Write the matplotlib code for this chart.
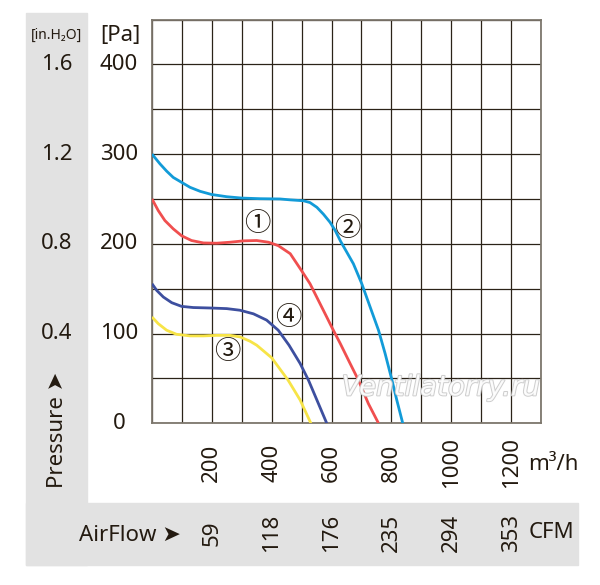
import matplotlib
matplotlib.use("Agg")

import matplotlib.pyplot as plt
import matplotlib.patheffects as pe
import matplotlib.transforms as mtransforms
from matplotlib.patches import Rectangle

# ---------------- data ----------------
flow_ticks = [200, 400, 600, 800, 1000, 1200]          # m3/h
cfm_labels = ["59", "118", "176", "235", "294", "353"]  # CFM
pa_ticks = [0, 100, 200, 300, 400]                      # Pa
inh2o_pa = [400, 300, 200, 100]
inh2o_labels = ["1.6", "1.2", "0.8", "0.4"]

# curve 1 (red)
flow_1 = [0, 21, 43, 71, 99, 132, 172, 216, 261, 305, 350, 389, 422, 462, 500,
          528, 556, 584, 601, 629, 662, 690, 723, 757]
pres_1 = [250, 237, 226, 216.7, 209, 203.7, 201, 200.7, 201.8, 203.3, 203.7, 201.8,
          198, 189, 170, 155.6, 137, 118.4, 107, 89, 66.7, 48, 22, 0]

# curve 2 (light blue)
flow_2 = [0, 27, 49, 71, 99, 127, 161, 199, 250, 300, 361, 428, 462, 506, 528, 551,
          573, 595, 612, 630, 651, 673, 701, 729, 757, 779, 802, 818, 838]
pres_2 = [300, 289, 281, 274, 268.5, 263, 258.5, 255, 252.5, 251, 250.3, 250, 249,
          248, 246, 240.7, 233, 224, 215, 203, 190.7, 177.8, 155.6, 129.6, 103.7,
          77.8, 48, 26, 0]

# curve 3 (yellow)
flow_3 = [0, 21, 49, 82, 127, 172, 216, 261, 294, 328, 350, 400, 455, 495, 531]
pres_3 = [118.5, 111, 103.7, 99.2, 97.4, 97.4, 98, 98, 96.3, 91.4, 87, 73, 48, 26, 0]

# curve 4 (dark blue)
flow_4 = [0, 16, 38, 66, 99, 138, 194, 250, 294, 339, 383, 422, 458, 495, 523, 551, 584]
pres_4 = [155.5, 148, 140.7, 134.4, 130.3, 129, 128.5, 127.8, 126, 122, 115, 103.7,
          87, 66.7, 48, 26, 0]

curve_names = ["\u2460", "\u2461", "\u2462", "\u2463"]
label_pos = [(352, 223), (651, 217), (250, 80), (456, 118)]

# ---------------- style ----------------
W, H = 600, 585
GREY = "#e2e2e2"
INK = "#231a10"
GRID = "#2b2318"
FONT = ["Noto Sans", "DejaVu Sans"]
NARROW = ["Liberation Sans Narrow", "Noto Sans", "DejaVu Sans"]
CJK = ["Noto Sans CJK JP", "DejaVu Sans"]
FS = 16


def fx(px):
    return px / W


def fy(py):
    return 1 - py / H


fig = plt.figure(figsize=(6, 5.85), dpi=100)

# grey L-shaped band (left column + bottom row)
fig.patches.append(Rectangle((fx(26), fy(565)), fx(87) - fx(26), (565 - 13) / H,
                             transform=fig.transFigure, color=GREY, zorder=0))
fig.patches.append(Rectangle((fx(26), fy(565)), fx(578) - fx(26), (565 - 503) / H,
                             transform=fig.transFigure, color=GREY, zorder=0))

ax = fig.add_axes([fx(152), fy(423.3), (541 - 152) / W, (423.3 - 19.5) / H])
ax.set_xlim(0, 1300)
ax.set_ylim(0, 450)
ax.set_xticks(range(0, 1301, 100))
ax.set_yticks(range(0, 451, 50))
ax.grid(True, color=GRID, lw=0.9)
ax.tick_params(length=0, labelbottom=False, labelleft=False)
for s in ax.spines.values():
    s.set_color("#7d776d")
    s.set_linewidth(1.3)

# curves
line_kw = dict(lw=2.0, zorder=3, solid_joinstyle="round", solid_capstyle="butt")
ax.plot(flow_2, pres_2, color="#129bd8", **line_kw)
ax.plot(flow_1, pres_1, color="#f04f4f", **line_kw)
ax.plot(flow_4, pres_4, color="#3d4f9f", **line_kw)
ax.plot(flow_3, pres_3, color="#f7e447", **line_kw)

for name, (x, y) in zip(curve_names, label_pos):
    ax.text(x, y, name, family=CJK, fontsize=19, color=INK,
            ha="center", va="center", zorder=4)

# watermark
ax.text(965, 40, "Ventilatorry.ru", fontsize=20, style="italic", color="white",
        ha="center", va="center", alpha=0.9, zorder=5,
        path_effects=[pe.withStroke(linewidth=1.4, foreground="#c8c8c8")])

# y labels (Pa and in.H2O)
ytr = mtransforms.blended_transform_factory(fig.transFigure, ax.transData)
for p in pa_ticks:
    fig.text(fx(119), p, str(p), transform=ytr, fontsize=FS, family=FONT,
             color=INK, ha="center", va="center")
for p, lab in zip(inh2o_pa, inh2o_labels):
    fig.text(fx(57), p, lab, transform=ytr, fontsize=FS, family=FONT,
             color=INK, ha="center", va="center")

fig.text(fx(120), fy(36), "[Pa]", fontsize=FS, family=FONT, color=INK,
         ha="center", va="center")
fig.text(fx(57), fy(35), "[in.H\u2082O]", fontsize=10, family=NARROW, color=INK,
         ha="center", va="center")
fig.text(fx(57), fy(430), "Pressure \u27a4", fontsize=FS, family=FONT, color=INK,
         rotation=90, ha="center", va="center")

# x labels (m3/h and CFM)
xtr = mtransforms.blended_transform_factory(ax.transData, fig.transFigure)
for f, c in zip(flow_ticks, cfm_labels):
    fig.text(f, fy(463), str(f), transform=xtr, fontsize=FS, family=FONT,
             color=INK, rotation=90, ha="center", va="center")
    fig.text(f, fy(533), c, transform=xtr, fontsize=FS, family=FONT,
             color=INK, rotation=90, ha="center", va="center")

fig.text(fx(553), fy(465), "m\u00b3/h", fontsize=FS, family=FONT, color=INK,
         ha="center", va="center")
fig.text(fx(551), fy(533), "CFM", fontsize=FS, family=FONT, color=INK,
         ha="center", va="center")
fig.text(fx(130), fy(535), "AirFlow \u27a4", fontsize=FS, family=FONT, color=INK,
         ha="center", va="center")

fig.savefig("out.png", dpi=100)
plt.close(fig)
